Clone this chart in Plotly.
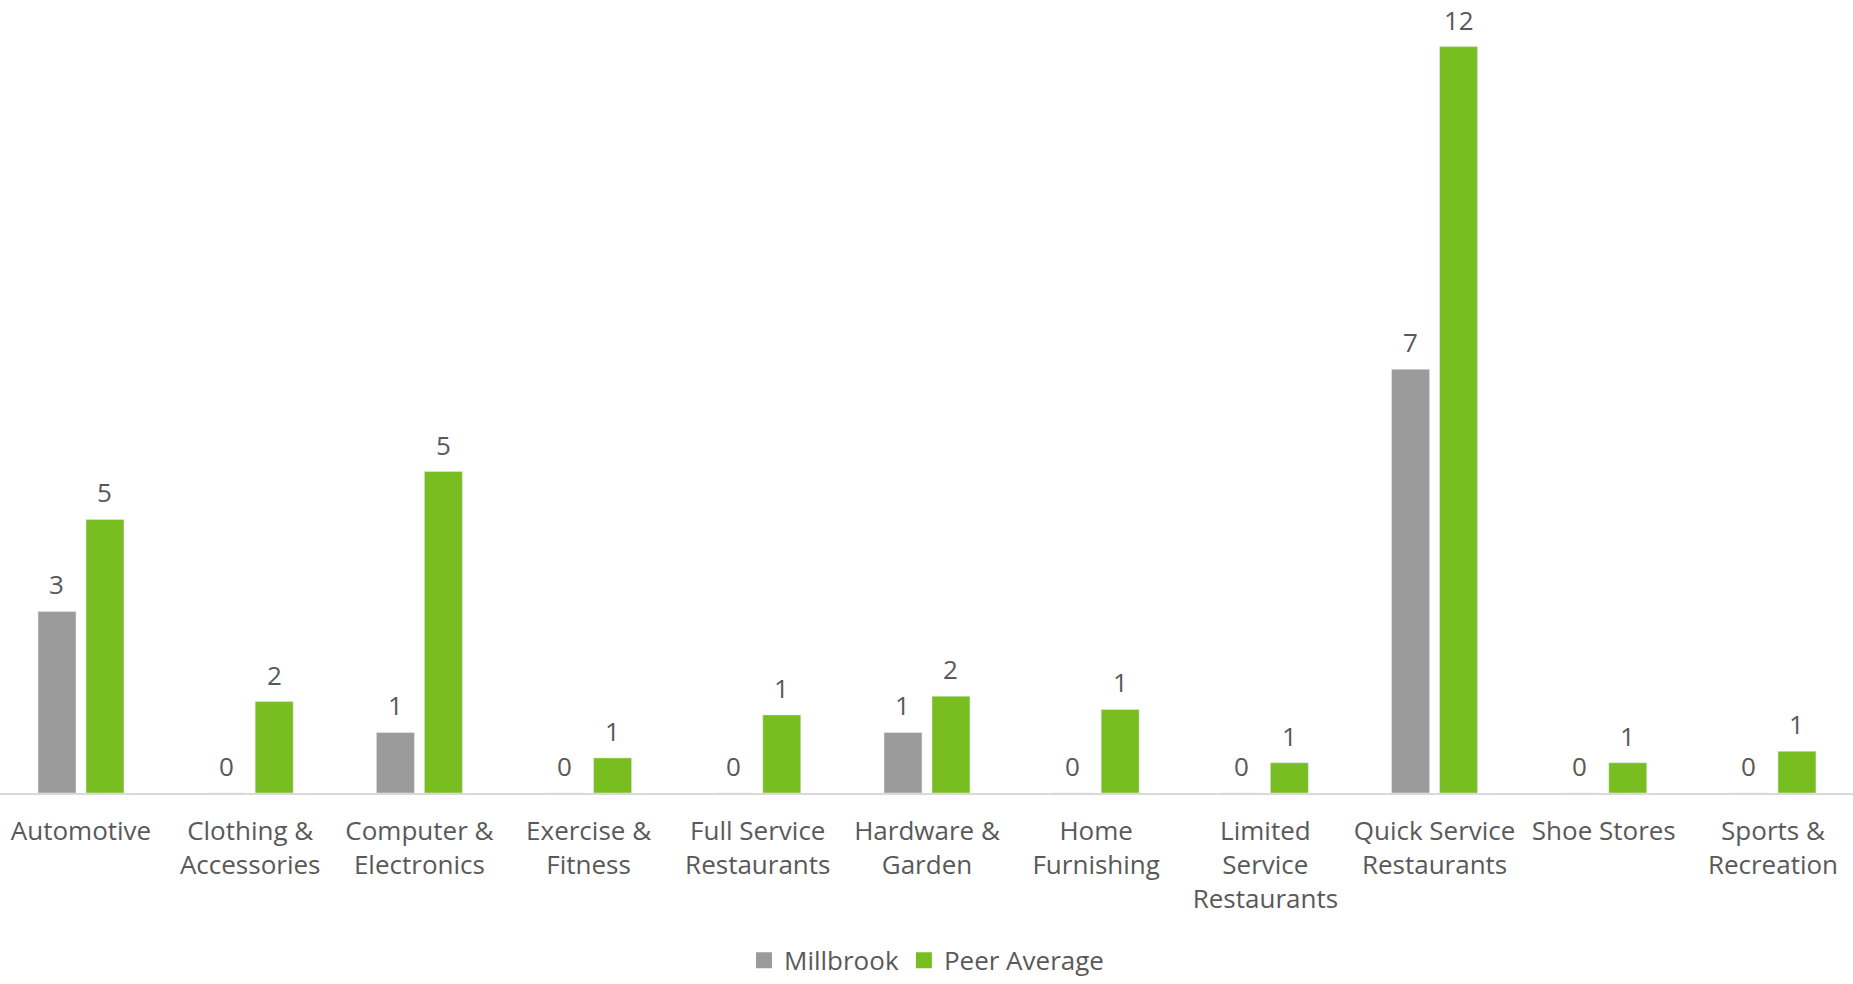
import plotly.graph_objects as go

categories = [
    "Automotive", "Clothing &<br>Accessories", "Computer &<br>Electronics",
    "Exercise &<br>Fitness", "Full Service<br>Restaurants", "Hardware &<br>Garden",
    "Home<br>Furnishing", "Limited<br>Service<br>Restaurants",
    "Quick Service<br>Restaurants", "Shoe Stores", "Sports &<br>Recreation",
]
millbrook = [3, 0, 1, 0, 0, 1, 0, 0, 7, 0, 0]
peer_average = [4.52, 1.51, 5.31, 0.58, 1.29, 1.6, 1.38, 0.5, 12.33, 0.5, 0.69]

FONT = "Open Sans"
TXT = "#595959"
GRAY = "#9B9B9B"
GREEN = "#78BE21"
FS = 26


def fmt(v):
    return str(int(v + 0.5))


fig = go.Figure()
fig.add_trace(go.Bar(name="Millbrook", x=categories, y=millbrook,
                     marker_color=GRAY, showlegend=False))
fig.add_trace(go.Bar(name="Peer Average", x=categories, y=peer_average,
                     marker_color=GREEN, showlegend=False))
# legend entries with larger square swatches
for name, col in [("Millbrook", GRAY), ("Peer Average", GREEN)]:
    fig.add_trace(go.Scatter(name=name, x=[None], y=[None], mode="markers",
                             marker=dict(symbol="square", size=16, color=col),
                             showlegend=True))

annotations = []
for series, shift in [(millbrook, -24), (peer_average, 24)]:
    for cat, v in zip(categories, series):
        annotations.append(dict(
            x=cat, y=v, xref="x", yref="y", text=fmt(v), showarrow=False,
            xshift=shift, yshift=27, yanchor="middle", xanchor="center",
            font=dict(family=FONT, size=FS, color=TXT),
        ))

fig.update_layout(
    width=1853, height=984,
    margin=dict(l=0, r=0, t=0, b=184),
    plot_bgcolor="white", paper_bgcolor="white",
    barmode="group", bargap=0.433, bargroupgap=0.208,
    font=dict(family=FONT, size=FS, color=TXT),
    legend=dict(orientation="h", x=0.5, xanchor="center", y=-0.211, yanchor="middle",
                font=dict(family=FONT, size=FS, color=TXT), itemwidth=30,
                traceorder="normal"),
    annotations=annotations,
)
fig.update_xaxes(
    range=[-0.4787, 10.473], showline=True, linecolor="#D9D9D9", linewidth=2,
    ticks="", tickfont=dict(family=FONT, size=FS, color=TXT), tickangle=0,
    ticklabelstandoff=14,
)
fig.update_yaxes(range=[0, 13.1], visible=False, showgrid=False, zeroline=False)

fig.write_html(
    "out.html",
    config={"displayModeBar": False},
    post_script="document.body.style.margin='0';document.body.style.overflow='hidden';",
)
